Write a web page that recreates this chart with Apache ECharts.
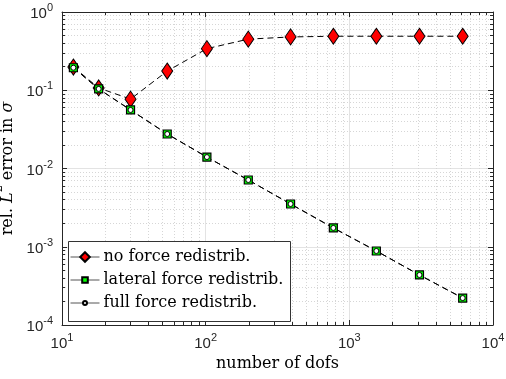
<!DOCTYPE html>
<html>
<head>
<meta charset="UTF-8">
<title>error vs dofs</title>
<script src="https://cdn.jsdelivr.net/npm/echarts@6/dist/echarts.min.js"></script>
<style>
    html,body{margin:0;padding:0;background:#fff;}
    #container{width:506px;height:379px;}
</style>
</head>
<body>
<div id="container"></div>
<script type="text/javascript">
var dofs = [12, 18, 30, 54, 102, 198, 390, 774, 1542, 3078, 6150];
var errNone = [0.198, 0.107, 0.077, 0.176, 0.34, 0.45, 0.48, 0.49, 0.49, 0.49, 0.49];
var errLateral = [0.194, 0.104, 0.056, 0.0276, 0.0140, 0.00713, 0.00352, 0.00174, 0.000883, 0.000436, 0.000221];
var errFull = [0.194, 0.104, 0.056, 0.0276, 0.0140, 0.00713, 0.00352, 0.00174, 0.000883, 0.000436, 0.000221];
var seriesNames = ['no force redistrib.', 'lateral force redistrib.', 'full force redistrib.'];

var serif = 'DejaVu Serif';
var sans = 'Liberation Sans';
var diamond = 'path://M10,0L20,14L10,28L0,14Z';

function pairs(xs, ys) {
    return xs.map(function (x, i) { return [x, ys[i]]; });
}

function powLabel(v) {
    return '{b|10}{s|' + Math.round(Math.log10(v)) + '}';
}
var tickRich = {
    b: { fontSize: 15, fontFamily: sans, color: '#262626', lineHeight: 19, verticalAlign: 'bottom' },
    s: { fontSize: 11, fontFamily: sans, color: '#262626', lineHeight: 19, verticalAlign: 'top' }
};

var lineDash = { color: '#000', width: 1, type: [6, 4] };
var axisCol = '#262626';
var minorTick = { show: true, splitNumber: 9, length: 3, lineStyle: { color: axisCol } };

// one legend per row so each marker gets its own size
function legendRow(name, top, h) {
    return {
        orient: 'vertical', left: 70, top: top, z: 10,
        padding: 0, itemWidth: 29, itemHeight: h, itemGap: 0,
        lineStyle: { type: 'solid', color: '#555', width: 1 },
        textStyle: { fontFamily: serif, fontSize: 16, color: '#000', lineHeight: 20, padding: [0, 0, 0, -1] },
        data: [name]
    };
}

function boxAxis(base, pos) {
    return {
        type: 'log', logBase: 10, min: base.min, max: base.max, position: pos,
        axisLine: { show: true, lineStyle: { color: axisCol } },
        axisTick: { show: true, inside: true, length: 5, lineStyle: { color: axisCol } },
        minorTick: minorTick,
        axisLabel: { show: false }, splitLine: { show: false }
    };
}

var chart = echarts.init(document.getElementById('container'));
var option = {
    animation: false,
    grid: { left: 62, right: 13, top: 12, bottom: 54, containLabel: false, outerBoundsMode: 'none' },
    graphic: [{
        type: 'rect', left: 68, top: 241, z: 5,
        shape: { width: 222, height: 80 },
        style: { fill: '#fff', stroke: '#333', lineWidth: 1 }
    }],
    legend: [
        legendRow(seriesNames[0], 247, 12),
        legendRow(seriesNames[1], 270, 7),
        legendRow(seriesNames[2], 293, 5)
    ],
    xAxis: [{
        type: 'log', logBase: 10, min: 10, max: 10000,
        name: 'number of dofs', nameLocation: 'middle', nameGap: 29,
        nameTextStyle: { fontFamily: serif, fontSize: 16, color: '#000' },
        axisLine: { lineStyle: { color: axisCol } },
        axisTick: { inside: true, length: 5, lineStyle: { color: axisCol } },
        minorTick: minorTick,
        axisLabel: { formatter: powLabel, rich: tickRich, margin: 7 },
        splitLine: { show: true, lineStyle: { color: '#e3e3e3', width: 1 } },
        minorSplitLine: { show: true, lineStyle: { color: '#d6d6d6', type: [1, 2], width: 1 } }
    }, boxAxis({ min: 10, max: 10000 }, 'top')],
    yAxis: [{
        type: 'log', logBase: 10, min: 0.0001, max: 1,
        name: '{t|rel. }{i|L}{p|2}{t| error in }{i|σ}',
        nameLocation: 'middle', nameGap: 42, nameRotate: 90,
        nameTextStyle: {
            rich: {
                t: { fontFamily: serif, fontSize: 16, color: '#000', lineHeight: 22, verticalAlign: 'bottom' },
                i: { fontFamily: serif, fontStyle: 'italic', fontSize: 16, color: '#000', lineHeight: 22, verticalAlign: 'bottom' },
                p: { fontFamily: serif, fontSize: 11, color: '#000', lineHeight: 22, verticalAlign: 'top' }
            }
        },
        axisLine: { show: true, lineStyle: { color: axisCol } },
        axisTick: { show: true, inside: true, length: 5, lineStyle: { color: axisCol } },
        minorTick: minorTick,
        axisLabel: { formatter: powLabel, rich: tickRich, margin: 9 },
        splitLine: { show: true, lineStyle: { color: '#e3e3e3', width: 1 } },
        minorSplitLine: { show: true, lineStyle: { color: '#d6d6d6', type: [1, 2], width: 1 } }
    }, boxAxis({ min: 0.0001, max: 1 }, 'right')],
    series: [{
        type: 'line', name: seriesNames[0], data: pairs(dofs, errNone),
        lineStyle: lineDash,
        symbol: diamond, symbolSize: [11, 16], symbolKeepAspect: false,
        itemStyle: { color: '#ff0000', borderColor: '#000', borderWidth: 1 }
    }, {
        type: 'line', name: seriesNames[1], data: pairs(dofs, errLateral),
        lineStyle: lineDash,
        symbol: 'rect', symbolSize: 8,
        itemStyle: { color: '#00ff00', borderColor: '#000', borderWidth: 1.2 }
    }, {
        type: 'line', name: seriesNames[2], data: pairs(dofs, errFull),
        lineStyle: lineDash,
        symbol: 'circle', symbolSize: 5,
        itemStyle: { color: '#fff', borderColor: '#000', borderWidth: 1 }
    }]
};
chart.setOption(option);
</script>
</body>
</html>
